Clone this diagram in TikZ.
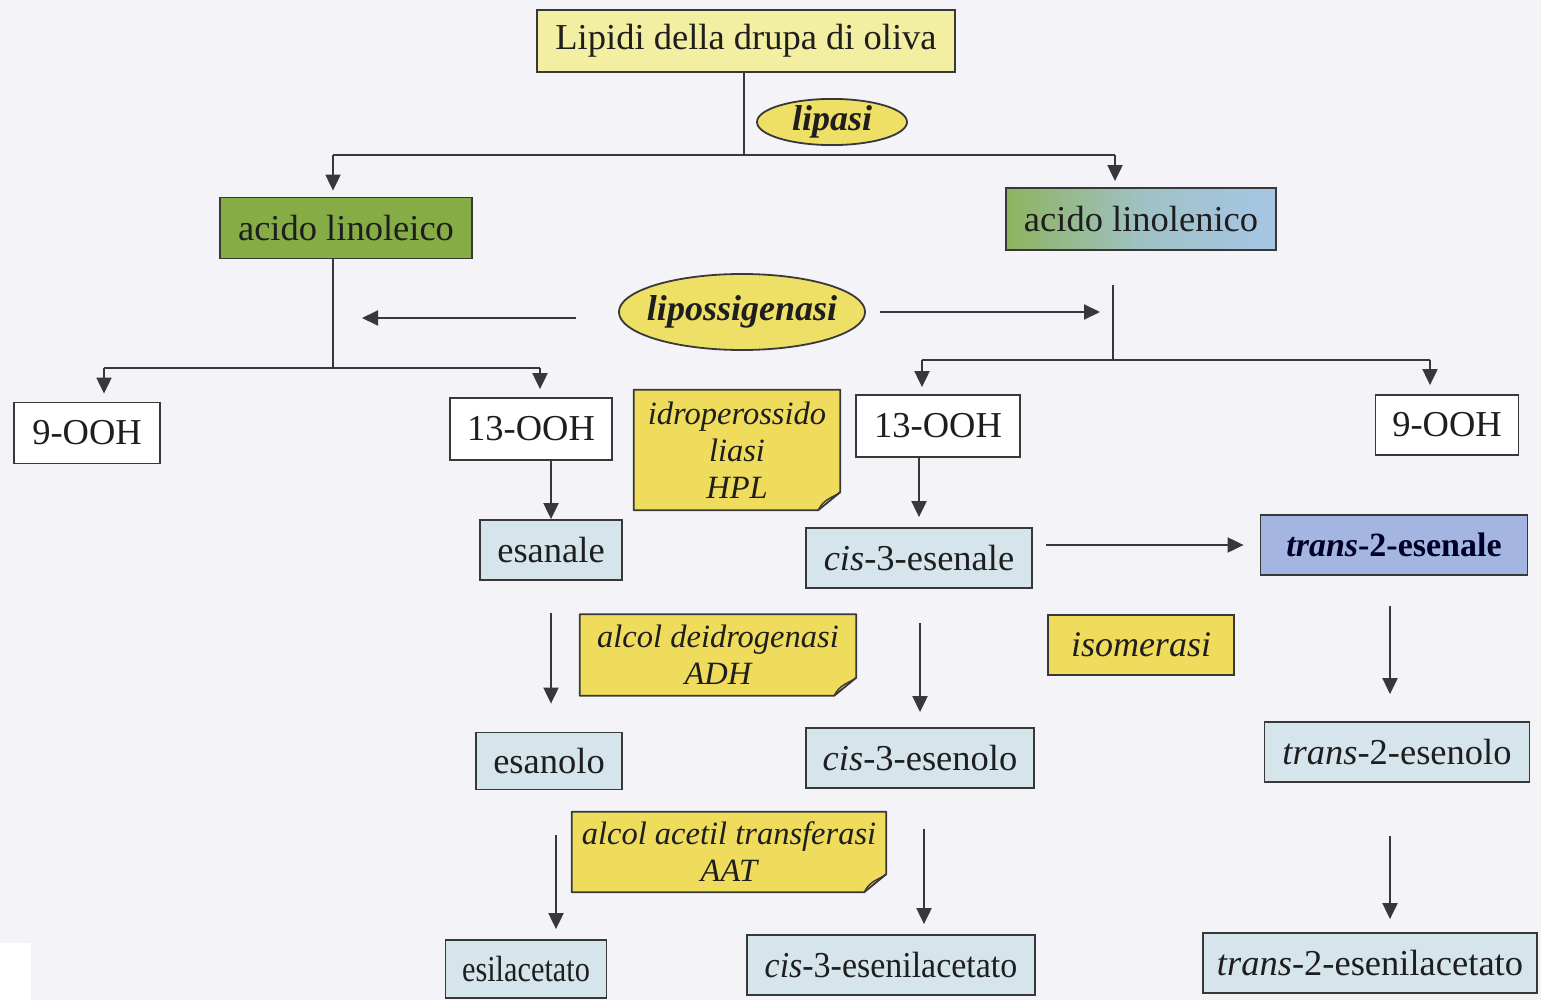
\documentclass[tikz,border=0pt]{standalone}
\usepackage{fontspec}
\setmainfont{Liberation Serif}
\usetikzlibrary{shapes.geometric,arrows.meta}
\definecolor{bg}{HTML}{F4F3F8}
\definecolor{edge}{HTML}{383838}
\definecolor{txt}{HTML}{1E1E1E}
\definecolor{topyel}{HTML}{F2EEA2}
\definecolor{enzyel}{HTML}{EEDF66}
\definecolor{noteyel}{HTML}{F0DC5C}
\definecolor{lgreen}{HTML}{86AC45}
\definecolor{gstart}{HTML}{8DB35E}
\definecolor{gend}{HTML}{A6C6E6}
\definecolor{lblue}{HTML}{D6E5EC}
\definecolor{mblue}{HTML}{A3B5E0}
\newcommand\bigtxt{\fontsize{36.5}{40}\selectfont}
\newcommand\notetxt{\fontsize{32.5}{37}\selectfont\itshape}
\newcommand\drawnote[1]{%
  \filldraw[fill=noteyel,draw=edge,line width=1.8pt,line join=round]
    (#1.north west) -- (#1.north east) -- ([yshift=18pt]#1.south east)
    -- ([xshift=-22pt]#1.south east) -- (#1.south west) -- cycle;
  \draw[edge,line width=1.4pt]
    ([xshift=-22pt]#1.south east) .. controls ([xshift=-16pt,yshift=12pt]#1.south east)
    and ([xshift=-8pt,yshift=12pt]#1.south east) .. ([yshift=18pt]#1.south east);}
\begin{document}
\begin{tikzpicture}[x=1pt,y=-1pt,
  box/.style={draw=edge,line width=1.8pt,inner sep=0pt,font=\bigtxt,text=txt,rectangle},
  enz/.style={ellipse,draw=edge,line width=1.8pt,fill=enzyel,inner xsep=-8pt,inner ysep=0pt,text=txt,
    font=\fontsize{36}{40}\selectfont\bfseries\itshape},
  note/.style={inner sep=0pt,align=center,font=\notetxt,text=txt},
  line/.style={draw=edge,line width=2pt},
  arr/.style={line,-{Triangle[length=16pt,width=15pt]}}]
\fill[bg] (0,0) rectangle (1541,1000);
\useasboundingbox (0,0) rectangle (1541,1000);
\fill[white] (0,943) rectangle (31,1000);

% nodes
\node[box,fill=topyel,minimum width=418pt,minimum height=62pt] (top) at (746,41) {Lipidi della drupa di oliva};
\node[enz,minimum width=150pt,minimum height=46pt] (lipasi) at (832,122) {lipasi};
\node[box,fill=lgreen,minimum width=252pt,minimum height=61pt] (linoleico) at (346,228) {acido linoleico};
\node[box,left color=gstart,right color=gend,middle color=gend!75!gstart,minimum width=270pt,minimum height=62pt] (linolenico) at (1141,219) {acido linolenico};
\node[enz,minimum width=246pt,minimum height=76pt] (lipox) at (742,312) {lipossigenasi};
\node[box,fill=white,minimum width=146pt,minimum height=61pt] (ooh9L) at (87,433) {9-OOH};
\node[box,fill=white,minimum width=162pt,minimum height=62pt] (ooh13L) at (531,429) {13-OOH};
\node[note,minimum width=206pt,minimum height=120pt] (hpl) at (737,450) {};
\drawnote{hpl}
\node[note] at (hpl) {idroperossido\\liasi\\HPL};
\node[box,fill=white,minimum width=164pt,minimum height=62pt] (ooh13R) at (938,426) {13-OOH};
\node[box,fill=white,minimum width=143pt,minimum height=60pt] (ooh9R) at (1447,425) {9-OOH};
\node[box,fill=lblue,minimum width=142pt,minimum height=60pt] (esanale) at (551,550) {esanale};
\node[box,fill=lblue,minimum width=226pt,minimum height=60pt] (cis3al) at (919,558) {\textit{cis}-3-esenale};
\node[box,fill=mblue,minimum width=267pt,minimum height=60pt,font=\fontsize{34}{40}\selectfont\bfseries,text=black!85!blue] (trans2al) at (1394,545) {\textit{trans}-2-esenale};
\node[box,fill=noteyel,minimum width=186pt,minimum height=60pt,font=\fontsize{36}{40}\selectfont\itshape] (isom) at (1141,645) {isomerasi};
\node[note,minimum width=276pt,minimum height=81pt] (adh) at (718,655) {};
\drawnote{adh}
\node[note] at (adh) {alcol deidrogenasi\\ADH};
\node[box,fill=lblue,minimum width=146pt,minimum height=57pt] (esanolo) at (549,761) {esanolo};
\node[box,fill=lblue,minimum width=228pt,minimum height=60pt] (cis3ol) at (920,758) {\textit{cis}-3-esenolo};
\node[box,fill=lblue,minimum width=265pt,minimum height=60pt] (trans2ol) at (1397,752) {\textit{trans}-2-esenolo};
\node[note,minimum width=314pt,minimum height=80pt] (aat) at (729,852) {};
\drawnote{aat}
\node[note] at (aat) {alcol acetil transferasi\\AAT};
\node[box,fill=lblue,minimum width=161pt,minimum height=58pt] (esil) at (526,969) {\scalebox{0.83}[1]{esilacetato}};
\node[box,fill=lblue,minimum width=288pt,minimum height=60pt] (cis3ac) at (891,965) {\scalebox{0.93}[1]{\textit{cis}-3-esenilacetato}};
\node[box,fill=lblue,minimum width=334pt,minimum height=60pt] (trans2ac) at (1370,963) {\textit{trans}-2-esenilacetato};

% top split
\coordinate (jt) at (744,155);
\coordinate (hl) at (333,155);
\coordinate (hr) at (1115,155);
\draw[line] (top.south -| jt) -- (jt);
\draw[line] (hl) -- (hr);
\draw[arr,shorten >=6pt] (hl) -- (hl |- linoleico.north);
\draw[arr,shorten >=6pt] (hr) -- (hr |- linolenico.north);

% left lipoxygenase branch
\coordinate (lv) at (333,368);
\coordinate (l9) at (104,368);
\coordinate (l13) at (540,368);
\draw[line] (lv |- linoleico.south) -- (lv);
\draw[line] (l9) -- (l13);
\draw[arr,shorten >=8pt] (l9) -- (l9 |- ooh9L.north);
\draw[arr,shorten >=8pt] (l13) -- (l13 |- ooh13L.north);

% right lipoxygenase branch
\coordinate (rt) at (1113,285);
\coordinate (rv) at (1113,360);
\coordinate (r13) at (922,360);
\coordinate (r9) at (1430,360);
\draw[line] (rt) -- (rv);
\draw[line] (r13) -- (r9);
\draw[arr,shorten >=7pt] (r13) -- (r13 |- ooh13R.north);
\draw[arr,shorten >=9pt] (r9) -- (r9 |- ooh9R.north);

% lipoxygenase arrows
\coordinate (lpL) at (362,318);
\coordinate (lpR) at (1100,312);
\draw[arr,shorten <=42pt] (lipox.west |- lpL) -- (lpL);
\draw[arr,shorten <=14pt] (lipox.east) -- (lpR);

% downstream
\draw[arr] (ooh13L.south -| esanale.north) -- (esanale.north);
\draw[arr,shorten >=10pt] (ooh13R.south -| cis3al.north) -- (cis3al.north);
\draw[arr,shorten <=13pt,shorten >=16pt] (cis3al.east |- trans2al.west) -- (trans2al.west);
\draw[arr,shorten <=32pt,shorten >=28pt] (esanale.south) -- (esanale.south |- esanolo.north);
\draw[arr,shorten <=34pt,shorten >=15pt] (cis3al.south -| cis3ol.north) -- (cis3ol.north);
\draw[arr,shorten <=30pt,shorten >=27pt] (trans2al.south -| 1390,0) -- (trans2ol.north -| 1390,0);
\draw[arr,shorten <=45pt,shorten >=10pt] (esanolo.south -| 556,0) -- (esil.north -| 556,0);
\draw[arr,shorten <=40pt,shorten >=10pt] (cis3ol.south -| 924,0) -- (cis3ac.north -| 924,0);
\draw[arr,shorten <=53pt,shorten >=13pt] (trans2ol.south -| 1390,0) -- (trans2ac.north -| 1390,0);
\end{tikzpicture}
\end{document}
